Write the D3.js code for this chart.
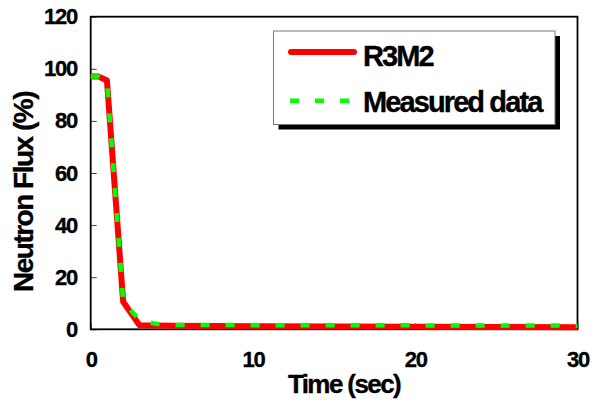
<!DOCTYPE html>
<html>
<head>
<meta charset="utf-8">
<script src="https://cdn.jsdelivr.net/npm/d3@7"></script>
<style>
  html, body { margin: 0; padding: 0; background: #fff; }
  svg { display: block; }
  text { font-family: "Liberation Sans", Arial, sans-serif; font-weight: bold; fill: #000; stroke: #000; stroke-width: 0.35px; }
</style>
</head>
<body>
<svg id="chart" width="595" height="409"></svg>
<script>
// Reactor scram transient: calculated (R3M2) vs. measured neutron flux
const simTime   = [0, 0.5, 1, 2, 3, 4, 5, 10, 15, 20, 25, 30];
const simFlux   = [97, 97, 95.5, 10.6, 1.6, 1.5, 1.4, 1.2, 1.1, 1.0, 0.9, 0.8];
const measTime  = [0, 0.5, 1, 2, 3, 4, 5, 10, 15, 20, 25, 30];
const measFlux  = [97, 97, 95.5, 10.6, 3.6, 2.1, 1.7, 1.6, 1.6, 1.5, 1.5, 1.4];
const xTicks    = [0, 10, 20, 30];
const yTicks    = [0, 20, 40, 60, 80, 100, 120];
const seriesNames = ["R3M2", "Measured data"];
const xTitle = "Time (sec)";
const yTitle = "Neutron Flux (%)";

const svg = d3.select("#chart");
const plot = { left: 90.7, right: 577.5, top: 16.7, bottom: 329.3 };

const x = d3.scaleLinear().domain([0, 30]).range([plot.left, plot.right]);
const y = d3.scaleLinear().domain([0, 120]).range([plot.bottom, plot.top]);

// axes: inward ticks, labels well outside the frame
const yAxis = d3.axisLeft(y).tickValues(yTicks).tickSizeInner(-6).tickSizeOuter(0).tickPadding(13.7);
const xAxis = d3.axisBottom(x).tickValues(xTicks).tickSizeInner(-6).tickSizeOuter(0).tickPadding(22.5);

const gy = svg.append("g").attr("transform", `translate(${plot.left},0)`).call(yAxis);
const gx = svg.append("g").attr("transform", `translate(0,${plot.bottom})`).call(xAxis);
[gx, gy].forEach(g => {
  g.select(".domain").remove();
  g.selectAll(".tick line").attr("stroke", "#444").attr("stroke-width", 1);
  g.selectAll(".tick text")
    .style("font-family", '"Liberation Sans", Arial, sans-serif')
    .style("font-weight", "bold")
    .style("font-size", "22px")
    .style("letter-spacing", "-1.2px")
    .style("stroke", "#000").style("stroke-width", "0.35px")
    .attr("fill", "#000");
});

// plot frame
svg.append("rect")
  .attr("x", plot.left).attr("y", plot.top)
  .attr("width", plot.right - plot.left).attr("height", plot.bottom - plot.top)
  .attr("fill", "none").attr("stroke", "#000").attr("stroke-width", 1.8);

// series
const simData = simTime.map((t, i) => [t, simFlux[i]]);
const measData = measTime.map((t, i) => [t, measFlux[i]]);
const line = d3.line().x(d => x(d[0])).y(d => y(d[1]));

svg.append("path").datum(simData)
  .attr("d", line)
  .attr("fill", "none").attr("stroke", "#ff0000")
  .attr("stroke-width", 6).attr("stroke-linejoin", "round");

svg.append("path").datum(measData)
  .attr("d", line)
  .attr("fill", "none").attr("stroke", "#00ff00")
  .attr("stroke-width", 4.5).attr("stroke-dasharray", "9 16");

// axis titles
svg.append("text")
  .attr("x", 344).attr("y", 393)
  .attr("text-anchor", "middle")
  .style("font-size", "26px").style("letter-spacing", "-1.6px")
  .text(xTitle);

svg.append("text")
  .attr("transform", "translate(33,192) rotate(-90)")
  .attr("text-anchor", "middle")
  .style("font-size", "28px").style("letter-spacing", "-1.5px")
  .text(yTitle);

// legend with drop shadow
const lg = { x: 273.5, y: 31, w: 281.5, h: 93.5 };
svg.append("rect")
  .attr("x", lg.x + 5).attr("y", lg.y + 5).attr("width", lg.w).attr("height", lg.h)
  .attr("fill", "#000");
svg.append("rect")
  .attr("x", lg.x).attr("y", lg.y).attr("width", lg.w).attr("height", lg.h)
  .attr("fill", "#fff").attr("stroke", "#777").attr("stroke-width", 1);

const legendRows = [
  { name: seriesNames[0], cy: 52, stroke: "#ff0000", width: 6, dash: null, cap: "round", base: 66 },
  { name: seriesNames[1], cy: 100.7, stroke: "#00ff00", width: 4.5, dash: "9 16", cap: "butt", base: 111.5 }
];
legendRows.forEach(r => {
  svg.append("line")
    .attr("x1", r.cap === "round" ? 291 : 290).attr("x2", r.cap === "round" ? 354 : 349)
    .attr("y1", r.cy).attr("y2", r.cy)
    .attr("stroke", r.stroke).attr("stroke-width", r.width)
    .attr("stroke-linecap", r.cap)
    .attr("stroke-dasharray", r.dash);
  svg.append("text")
    .attr("x", 363).attr("y", r.base)
    .style("font-size", "29px").style("letter-spacing", "-1.9px")
    .text(r.name);
});
</script>
</body>
</html>
